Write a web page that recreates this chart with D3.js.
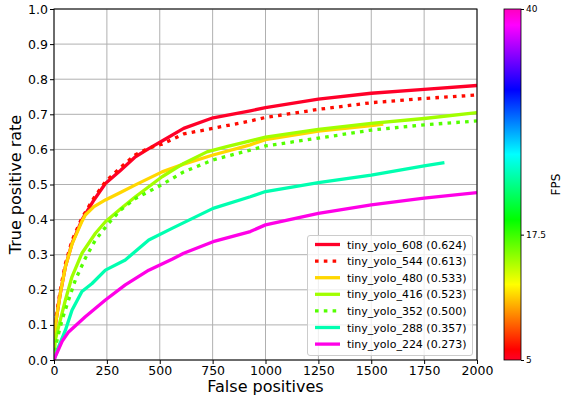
<!DOCTYPE html>
<html>
<head>
<meta charset="utf-8">
<script src="https://cdn.jsdelivr.net/npm/d3@7"></script>
<style>
  body { margin: 0; background: #fff; }
  svg text { font-family: "DejaVu Sans", sans-serif; fill: #000; }
</style>
</head>
<body>
<script>
'use strict';

// series names, AP in legend, and FPS (drives the colour)
const names = ["tiny_yolo_608", "tiny_yolo_544", "tiny_yolo_480", "tiny_yolo_416",
               "tiny_yolo_352", "tiny_yolo_288", "tiny_yolo_224"];
const scores = ["0.624", "0.613", "0.533", "0.523", "0.500", "0.357", "0.273"];
const fps = [5.0, 6.3, 11.5, 14.9, 16.9, 23.5, 39.0];
const dotted = [false, true, false, false, true, false, false];

// false positives (x) and true positive rate (y) for each curve
const fp608 = [0, 2, 9, 30, 54, 85, 132, 189, 243, 314, 385, 450, 511, 613, 752, 928, 1000, 1250, 1500, 1750, 2000];
const tpr608 = [0, 0.07, 0.11, 0.19, 0.266, 0.332, 0.399, 0.456, 0.503, 0.54, 0.579, 0.603, 0.624, 0.66, 0.69, 0.71, 0.719, 0.743, 0.76, 0.771, 0.782];
const fp544 = [0, 2, 9, 30, 54, 85, 132, 189, 243, 314, 385, 450, 511, 613, 752, 928, 1000, 1250, 1500, 1750, 2000];
const tpr544 = [0, 0.08, 0.12, 0.2, 0.275, 0.34, 0.405, 0.462, 0.508, 0.548, 0.585, 0.604, 0.615, 0.644, 0.66, 0.681, 0.691, 0.714, 0.733, 0.745, 0.755];
const fp480 = [0, 2, 9, 30, 54, 85, 132, 148, 189, 243, 314, 385, 511, 613, 752, 928, 1000, 1250, 1500, 1557];
const tpr480 = [0, 0.07, 0.11, 0.19, 0.266, 0.33, 0.395, 0.413, 0.437, 0.456, 0.477, 0.499, 0.536, 0.558, 0.584, 0.613, 0.628, 0.652, 0.668, 0.672];
const fp416 = [0, 6, 22, 54, 85, 132, 196, 243, 314, 385, 511, 613, 723, 817, 928, 1000, 1250, 1500, 1750, 2000];
const tpr416 = [0, 0.057, 0.095, 0.171, 0.237, 0.304, 0.361, 0.394, 0.43, 0.465, 0.522, 0.56, 0.593, 0.608, 0.624, 0.635, 0.657, 0.674, 0.688, 0.705];
const fp352 = [0, 8, 22, 38, 69, 101, 148, 196, 258, 314, 385, 511, 613, 752, 928, 1000, 1250, 1500, 1750, 2000];
const tpr352 = [0, 0.04, 0.076, 0.114, 0.171, 0.228, 0.29, 0.342, 0.389, 0.427, 0.46, 0.5, 0.536, 0.57, 0.598, 0.61, 0.632, 0.655, 0.67, 0.681];
const fp288 = [0, 22, 54, 85, 132, 180, 243, 337, 448, 558, 752, 928, 1000, 1250, 1500, 1750, 1846];
const tpr288 = [0, 0.038, 0.085, 0.142, 0.195, 0.218, 0.256, 0.285, 0.342, 0.375, 0.432, 0.465, 0.48, 0.505, 0.527, 0.553, 0.562];
const fp224 = [0, 10, 40, 69, 148, 243, 337, 448, 558, 613, 752, 928, 1000, 1250, 1500, 1750, 2000];
const tpr224 = [0, 0.015, 0.055, 0.08, 0.123, 0.171, 0.214, 0.256, 0.287, 0.304, 0.337, 0.366, 0.385, 0.418, 0.442, 0.461, 0.477];

const xTicks = [0, 250, 500, 750, 1000, 1250, 1500, 1750, 2000];
const yTicks = [0, 0.1, 0.2, 0.3, 0.4, 0.5, 0.6, 0.7, 0.8, 0.9, 1.0];
const cbTicks = [5, 17.5, 40];

// matplotlib gist_rainbow stops
const rainbowPos = [0.0, 0.03, 0.215, 0.4, 0.586, 0.77, 0.954, 1.0];
const rainbowCol = ["#ff0029", "#ff0000", "#ffff00", "#00ff00", "#00ffff", "#0000ff", "#ff00ff", "#ff00bf"];

const curves = [[fp608, tpr608], [fp544, tpr544], [fp480, tpr480], [fp416, tpr416],
                [fp352, tpr352], [fp288, tpr288], [fp224, tpr224]];

const W = 562, H = 400;
const L = 54, R = 477, T = 9, B = 360;

const svg = d3.select('body').append('svg')
  .attr('width', W)
  .attr('height', H);

const x = d3.scaleLinear().domain([0, 2000]).range([L, R]);
const y = d3.scaleLinear().domain([0, 1]).range([B, T]);
const rainbow = d3.scaleLinear().domain(rainbowPos).range(rainbowCol);
const fpsScale = d3.scaleLinear().domain([5, 40]).range([0, 1]);
const colorOf = (f) => rainbow(fpsScale(f));

// grid
svg.append('g')
  .selectAll('line.vg')
  .data(xTicks)
  .enter().append('line')
    .attr('x1', (d) => x(d)).attr('x2', (d) => x(d))
    .attr('y1', T).attr('y2', B)
    .attr('stroke', '#b0b0b0').attr('stroke-width', 1);
svg.append('g')
  .selectAll('line.hg')
  .data(yTicks)
  .enter().append('line')
    .attr('y1', (d) => y(d)).attr('y2', (d) => y(d))
    .attr('x1', L).attr('x2', R)
    .attr('stroke', '#b0b0b0').attr('stroke-width', 1);

// curves
svg.append('clipPath').attr('id', 'clip')
  .append('rect').attr('x', L).attr('y', T).attr('width', R - L).attr('height', B - T);

const line = d3.line()
  .x((d) => x(d[0]))
  .y((d) => y(d[1]));

curves.forEach((c, i) => {
  const pts = c[0].map((v, k) => [v, c[1][k]]);
  svg.append('path')
    .datum(pts)
    .attr('clip-path', 'url(#clip)')
    .attr('d', line)
    .attr('fill', 'none')
    .attr('stroke', colorOf(fps[i]))
    .attr('stroke-width', 3.3)
    .attr('stroke-linejoin', 'round')
    .attr('stroke-dasharray', dotted[i] ? '3.6,5.2' : null);
});

// axes
const xAxis = d3.axisBottom(x).tickValues(xTicks).tickFormat(d3.format('d')).tickSizeOuter(0).tickSize(4).tickPadding(2);
const yAxis = d3.axisLeft(y).tickValues(yTicks).tickFormat(d3.format('.1f')).tickSizeOuter(0).tickSize(4).tickPadding(2);

const gx = svg.append('g').attr('transform', `translate(0,${B})`).call(xAxis);
const gy = svg.append('g').attr('transform', `translate(${L},0)`).call(yAxis);
[gx, gy].forEach((g) => {
  g.select('.domain').remove();
  g.selectAll('text').style('font-size', '12.5px').style('font-family', '"DejaVu Sans", sans-serif');
  g.selectAll('line').attr('stroke', '#000');
});

// frame
svg.append('rect')
  .attr('x', L).attr('y', T).attr('width', R - L).attr('height', B - T)
  .attr('fill', 'none').attr('stroke', '#000').attr('stroke-width', 1);

// axis labels
svg.append('text')
  .attr('x', (L + R) / 2).attr('y', 392)
  .attr('text-anchor', 'middle')
  .style('font-size', '16px')
  .text('False positives');

svg.append('text')
  .attr('transform', `translate(21,${(T + B) / 2})rotate(-90)`)
  .attr('text-anchor', 'middle')
  .style('font-size', '16px')
  .text('True positive rate');

// legend
const lg = svg.append('g');
lg.append('rect')
  .attr('x', 307.5).attr('y', 235.5).attr('width', 165).attr('height', 120)
  .attr('rx', 2.5)
  .attr('fill', 'rgba(255,255,255,0.8)')
  .attr('stroke', '#cccccc').attr('stroke-width', 1);

names.forEach((n, i) => {
  const yy = 244.5 + i * 16.6;
  lg.append('line')
    .attr('x1', 315).attr('x2', 340)
    .attr('y1', yy).attr('y2', yy)
    .attr('stroke', colorOf(fps[i]))
    .attr('stroke-width', 3.3)
    .attr('stroke-dasharray', dotted[i] ? '3.6,5.2' : null);
  lg.append('text')
    .attr('x', 347).attr('y', yy + 4)
    .style('font-size', '11px')
    .text(`${n} (${scores[i]})`);
});

// colorbar
const cbX = 504, cbW = 17;
const grad = svg.append('defs').append('linearGradient')
  .attr('id', 'cbgrad')
  .attr('x1', 0).attr('y1', 1).attr('x2', 0).attr('y2', 0);
rainbowPos.forEach((p, i) => {
  grad.append('stop').attr('offset', p).attr('stop-color', rainbowCol[i]);
});
svg.append('rect')
  .attr('x', cbX).attr('y', T).attr('width', cbW).attr('height', B - T)
  .attr('fill', 'url(#cbgrad)')
  .attr('stroke', '#000').attr('stroke-width', 0.8);

const cbScale = d3.scaleLinear().domain([5, 40]).range([B, T]);
const cbAxis = d3.axisRight(cbScale).tickValues(cbTicks).tickFormat((d) => d).tickSizeOuter(0).tickSize(3).tickPadding(2);
const gc = svg.append('g').attr('transform', `translate(${cbX + cbW},0)`).call(cbAxis);
gc.select('.domain').remove();
gc.selectAll('text').style('font-size', '9px').style('font-family', '"DejaVu Sans", sans-serif');
gc.selectAll('line').attr('stroke', '#000');

svg.append('text')
  .attr('transform', `translate(560,${(T + B) / 2})rotate(-90)`)
  .attr('text-anchor', 'middle')
  .style('font-size', '12px')
  .text('FPS');
</script>
</body>
</html>
